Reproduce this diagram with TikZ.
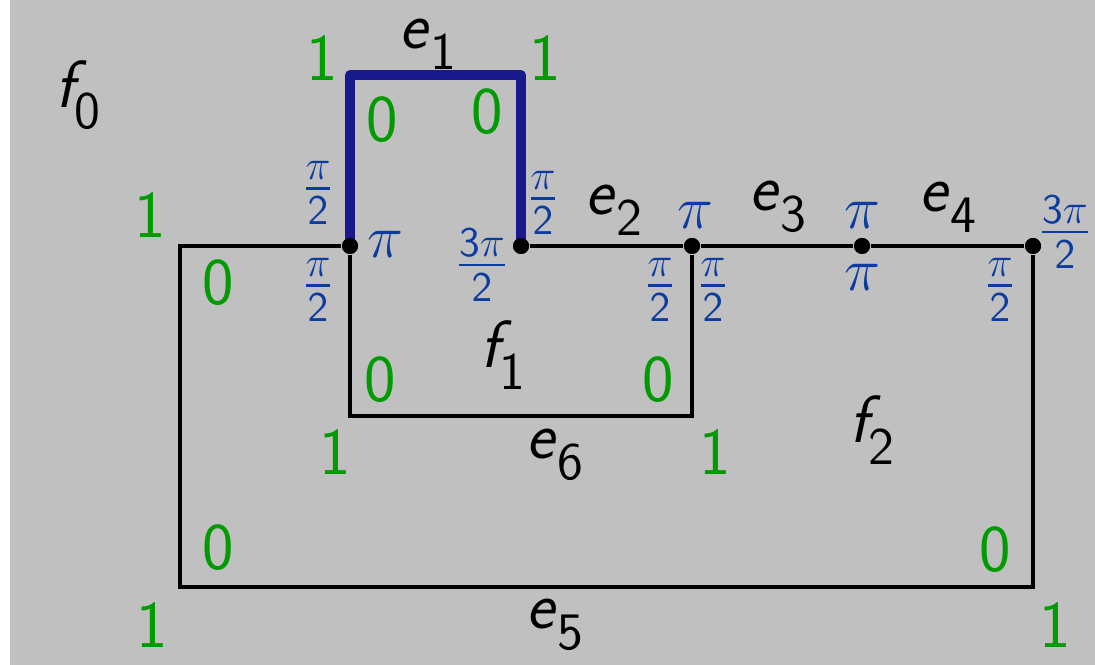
\documentclass[tikz,border=0pt]{standalone}
\usepackage{amsmath,amssymb}
\usepackage{tikz}
\usepackage{xcolor}
\definecolor{valgreen}{RGB}{0,155,0}
\definecolor{angblue}{RGB}{12,60,160}
\definecolor{pathblue}{RGB}{25,25,140}
\definecolor{facegray}{RGB}{192,192,192}
\newcommand{\sublab}[3]{\textit{#1}\kern#3\raisebox{-0.32em}{\fontsize{15}{18}\selectfont #2}}
\newcommand{\halfpi}{$\frac{\pi}{\mathsf{2}}$}
\newcommand{\threehalfpi}{$\frac{\mathsf{3}\pi}{\mathsf{2}}$}

\begin{document}
\begin{tikzpicture}[
  lbl/.style={font=\fontsize{19}{22}\selectfont\sffamily, inner sep=0pt},
  val/.style={lbl, text=valgreen},
  ang/.style={font=\fontsize{18}{21}\selectfont\sffamily, text=angblue, inner sep=0pt},
  vtx/.style={circle, fill=black, inner sep=0pt, minimum size=1.6mm},
  edge/.style={line width=0.9pt}]
\useasboundingbox (0,0) rectangle (10.95,6.65);
\fill[facegray] (0.10,0) rectangle (10.95,6.65);

% corners
\coordinate (ob) at (10.33,0.78); \coordinate (oa) at (1.80,0.78); \coordinate (ot) at (1.80,4.19);
\coordinate (ia) at (3.50,2.49); \coordinate (ib) at (6.92,2.49);
\coordinate (ta) at (3.50,5.90); \coordinate (tb) at (5.21,5.90);

% vertices
\node[vtx] (v1) at (3.50,4.19) {}; \node[vtx] (v2) at (5.21,4.19) {};
\node[vtx] (v3) at (6.92,4.19) {}; \node[vtx] (v4) at (8.62,4.19) {};
\node[vtx] (v5) at (10.33,4.19) {};

\draw[edge] (v5) -- (ob) -- (oa) -- (ot) -- (v1);
\draw[edge] (v1) -- (ia) -- (ib) -- (v3);
\draw[edge] (v2) -- (v3); \draw[edge] (v3) -- (v4); \draw[edge] (v4) -- (v5);
\draw[pathblue, line width=2.6pt, line join=round] (v1.center) -- (ta) -- (tb) -- (v2.center);
\foreach \v in {v1,v2,v3,v4,v5} \fill (\v) circle (0.08);

% faces and edges
\node[lbl] (f0) at (0.78,5.70) {\sublab{f}{0}{-0.2em}};
\node[lbl] (f1) at (5.03,3.10) {\sublab{f}{1}{-0.2em}};
\node[lbl] (f2) at (8.72,2.35) {\sublab{f}{2}{-0.2em}};
\node[lbl] (e1) at (4.28,6.21) {\sublab{e}{1}{0em}};
\node[lbl] (e2) at (6.14,4.55) {\sublab{e}{2}{0em}};
\node[lbl] (e3) at (7.78,4.58) {\sublab{e}{3}{0em}};
\node[lbl] (e4) at (9.48,4.58) {\sublab{e}{4}{0em}};
\node[lbl] (e5) at (5.55,0.40) {\sublab{e}{5}{0em}};
\node[lbl] (e6) at (5.55,2.10) {\sublab{e}{6}{0em}};

% green values
\node[val] (g1) at (3.22,6.07) {1}; \node[val] (g2) at (5.45,6.07) {1};
\node[val] (g3) at (3.82,5.45) {0}; \node[val] (g4) at (4.87,5.53) {0};
\node[val] (g5) at (1.50,4.50) {1}; \node[val] (g6) at (2.18,3.82) {0};
\node[val] (g7) at (3.80,2.85) {0}; \node[val] (g8) at (6.58,2.85) {0};
\node[val] (g9) at (3.35,2.13) {1}; \node[val] (g10) at (7.15,2.13) {1};
\node[val] (g11) at (2.18,1.17) {0}; \node[val] (g12) at (9.95,1.15) {0};
\node[val] (g13) at (1.52,0.40) {1}; \node[val] (g14) at (10.55,0.40) {1};

% blue angles
\node[ang] (a1) at (3.18,4.72) {\halfpi};
\node[ang] (a2) at (3.85,4.21) {$\pi$};
\node[ang] (a3) at (3.18,3.75) {\halfpi};
\node[ang] (a4) at (4.82,4.00) {\threehalfpi};
\node[ang] (a5) at (5.43,4.62) {\halfpi};
\node[ang] (a6) at (6.95,4.50) {$\pi$};
\node[ang] (a7) at (6.60,3.75) {\halfpi};
\node[ang] (a8) at (7.13,3.75) {\halfpi};
\node[ang] (a9) at (8.62,4.50) {$\pi$};
\node[ang] (a10) at (8.62,3.88) {$\pi$};
\node[ang] (a11) at (10.00,3.75) {\halfpi};
\node[ang] (a12) at (10.65,4.33) {\threehalfpi};
\end{tikzpicture}
\end{document}
